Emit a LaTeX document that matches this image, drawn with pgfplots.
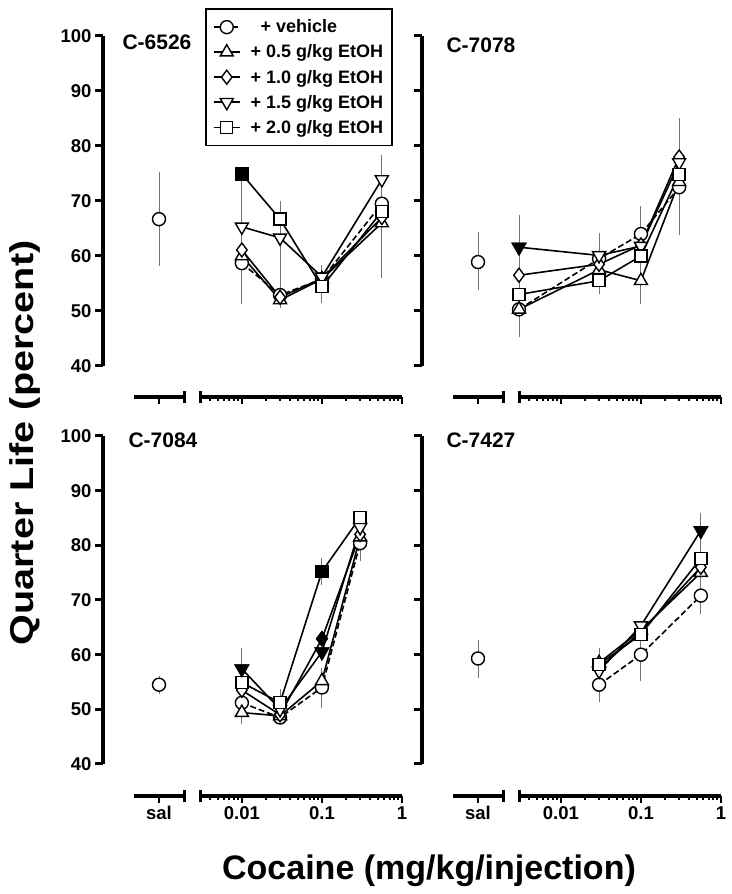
\documentclass[border=0pt]{standalone}
\usepackage{fontspec}
\setmainfont{Liberation Sans}
\usepackage{pgfplots}
\pgfplotsset{compat=1.18}
\newcommand{\tickfont}{\bfseries\fontsize{18.5}{21}\selectfont}
\newcommand{\legfont}{\bfseries\fontsize{18}{20}\selectfont}
\newcommand{\titlefont}{\bfseries\fontsize{21}{25}\selectfont}
\newcommand{\labfont}{\bfseries\fontsize{33}{38}\selectfont}
\pgfplotsset{
  panelbase/.style={scale only axis, clip=false, ymax=100,
    /pgf/number format/assume math mode=true,
    tick label style={font=\tickfont, black},
    tick style={black}},
  nolinearrows/.style={
    every outer x axis line/.append style={-, line width=3.2pt, black},
    every inner x axis line/.append style={-, line width=3.2pt, black},
    every outer y axis line/.append style={-, line width=3.2pt, black},
    every inner y axis line/.append style={-, line width=3.2pt, black},
    x axis line style={-, line width=3.2pt, black},
    y axis line style={-, line width=3.2pt, black}},
  yax/.style={panelbase, width=0.1pt, xmin=0, xmax=1, ymin=40,
    axis y line=left, axis x line=none, nolinearrows,
    ytick={40,50,...,100}, ytick align=outside,
    major tick length=8pt, major tick style={line width=3pt}},
  xbase/.style={panelbase, axis x line=bottom, axis y line=none, nolinearrows,
    xtick align=outside, major tick length=7pt, minor tick length=4pt,
    major tick style={line width=2.4pt}, minor tick style={line width=2pt},
    extra x tick style={major tick length=12pt, xtick align=center, major tick style={line width=3pt}}},
  logax/.style={xbase, width=202pt, xmin=0.003, xmax=1,
    xtick={0.01,0.1,1}, xticklabels={0.01,0.1,1},
    minor xtick={0.004,0.005,0.006,0.007,0.008,0.009,0.02,0.03,0.04,0.05,0.06,0.07,0.08,0.09,0.2,0.3,0.4,0.5,0.6,0.7,0.8,0.9},
    extra x ticks={0.003}, extra x tick labels={}},
  salax/.style={xbase, width=50pt, xmin=0, xmax=2, xtick={1}, xticklabels={sal},
    extra x ticks={2}, extra x tick labels={}},
  toprow/.style={ymin=34.364, height=361pt},
  botrow/.style={ymin=34.146, height=360pt},
  veh/.style={black, line width=1.6pt, dash pattern=on 6pt off 3pt, mark=*, mark size=6.5pt, mark options={solid, fill=white, line width=1.4pt}},
  tri/.style={black, line width=1.6pt, mark=triangle*, mark size=7.5pt, mark options={solid, fill=white, line width=1.4pt}},
  dia/.style={black, line width=1.6pt, mark=diamond*, mark size=7pt, mark options={solid, fill=white, line width=1.4pt}},
  inv/.style={black, line width=1.6pt, mark=triangle*, mark size=7.5pt, mark options={solid, fill=white, line width=1.4pt, rotate=180}},
  sq/.style={black, line width=1.6pt, mark=square*, mark size=6pt, mark options={solid, fill=white, line width=1.4pt}},
  err/.style={forget plot, only marks, mark=none, error bars/y dir=both, error bars/y explicit, error bars/error mark=none, error bars/error bar style={line width=1pt, black!55}},
}
\begin{document}
\begin{tikzpicture}[x=1pt,y=1pt]
\path[use as bounding box] (0,0) rectangle (731,894);

% ================= C-6526 (top left) =================
\begin{axis}[yax, height=330pt, at={(103pt,528pt)}, anchor=south west]
\end{axis}
\begin{axis}[salax, toprow, xticklabels={}, at={(134pt,497pt)}, anchor=south west]
\addplot[err] coordinates {(1,66.7) +- (0,8.5)};
\addplot[veh, forget plot] coordinates {(1,66.7)};
\end{axis}
\begin{axis}[xmode=log, logax, toprow, xticklabels={}, at={(200pt,497pt)}, anchor=south west,
  legend cell align=left,
  legend image code/.code={\draw[mark repeat=2,mark phase=2] plot coordinates {(0pt,0pt) (13pt,0pt) (26pt,0pt)};},
  legend style={at={(0.025,1.0776)}, anchor=north west, draw=black, line width=1.8pt,
    font=\legfont, row sep=6.5pt, column sep=8pt, inner xsep=7pt, inner ysep=9pt}]
\addplot[err] coordinates {(0.01,58.7) += (0,16.3) -= (0,7.4) (0.03,52.9) += (0,17.1) -= (0,2.4) (0.1,55.8) += (0,2.5) -= (0,4.3) (0.56,69.5) += (0,8.8) -= (0,13.5)};
\addplot[veh] coordinates {(0.01,58.7) (0.03,52.9) (0.1,55.8) (0.56,69.5)};
\addlegendentry{\ \ + vehicle}
\addplot[tri] coordinates {(0.01,60.0) (0.03,52.0) (0.1,55.8) (0.56,66.0)};
\addlegendentry{+ 0.5 g/kg EtOH}
\addplot[dia] coordinates {(0.01,61.1) (0.03,52.5) (0.1,55.9) (0.56,67.0)};
\addlegendentry{+ 1.0 g/kg EtOH}
\addplot[inv] coordinates {(0.01,65.3) (0.03,63.3) (0.1,56.2) (0.56,73.9)};
\addlegendentry{+ 1.5 g/kg EtOH}
\addplot[sq] coordinates {(0.01,74.9) (0.03,66.7) (0.1,54.4) (0.56,68.1)};
\addlegendentry{+ 2.0 g/kg EtOH}
\addplot[sq, forget plot, only marks, mark options={fill=black, line width=1.4pt}] coordinates {(0.01,74.9)};
\end{axis}

% ================= C-7078 (top right) =================
\begin{axis}[yax, height=330pt, yticklabels={}, at={(422pt,528pt)}, anchor=south west]
\end{axis}
\begin{axis}[salax, toprow, xticklabels={}, at={(453pt,497pt)}, anchor=south west]
\addplot[err] coordinates {(1,58.9) += (0,5.4) -= (0,5.1)};
\addplot[veh, forget plot] coordinates {(1,58.9)};
\end{axis}
\begin{axis}[xmode=log, logax, toprow, xticklabels={}, at={(519pt,497pt)}, anchor=south west]
\addplot[err] coordinates {(0.003,50.3) += (0,17.1) -= (0,5.0) (0.03,59.5) += (0,4.6) -= (0,6.5) (0.1,64.0) += (0,5.0) -= (0,12.7) (0.3,72.5) += (0,12.5) -= (0,8.7)};
\addplot[veh] coordinates {(0.003,50.3) (0.03,59.5) (0.1,64.0) (0.3,72.5)};
\addplot[tri] coordinates {(0.003,50.3) (0.03,57.5) (0.1,55.5) (0.3,73.5)};
\addplot[dia] coordinates {(0.003,56.5) (0.03,58.5) (0.1,62.0) (0.3,78.0)};
\addplot[inv] coordinates {(0.003,61.6) (0.03,60.1) (0.1,61.8) (0.3,77.0)};
\addplot[sq] coordinates {(0.003,53.0) (0.03,55.5) (0.1,60.0) (0.3,74.8)};
\addplot[inv, forget plot, only marks, mark options={fill=black, line width=1.4pt, rotate=180}] coordinates {(0.003,61.6)};
\end{axis}

% ================= C-7084 (bottom left) =================
\begin{axis}[yax, height=328pt, at={(103pt,130pt)}, anchor=south west]
\end{axis}
\begin{axis}[salax, botrow, at={(134pt,98pt)}, anchor=south west]
\addplot[err] coordinates {(1,54.5) += (0,1.6) -= (0,1.7)};
\addplot[veh, forget plot] coordinates {(1,54.5)};
\end{axis}
\begin{axis}[xmode=log, logax, botrow, at={(200pt,98pt)}, anchor=south west]
\addplot[err] coordinates {(0.01,51.2) += (0,10.1) -= (0,3.9) (0.03,48.5) += (0,5.3) -= (0,0.5) (0.1,54.0) += (0,3.5) -= (0,3.7) (0.1,75.2) += (0,2.4) -= (0,2.4) (0.3,80.4) += (0,1.0) -= (0,3.2)};
\addplot[veh] coordinates {(0.01,51.2) (0.03,48.5) (0.1,54.0) (0.3,80.4)};
\addplot[tri] coordinates {(0.01,49.4) (0.03,48.8) (0.1,55.2) (0.3,81.5)};
\addplot[dia] coordinates {(0.01,53.5) (0.03,49.0) (0.1,62.9) (0.3,82.0)};
\addplot[inv] coordinates {(0.01,57.4) (0.03,50.0) (0.1,60.5) (0.3,83.3)};
\addplot[sq] coordinates {(0.01,54.9) (0.03,51.2) (0.1,75.2) (0.3,85.1)};
\addplot[dia, forget plot, only marks, mark options={fill=black, line width=1.4pt}] coordinates {(0.1,62.9)};
\addplot[inv, forget plot, only marks, mark options={fill=black, line width=1.4pt, rotate=180}] coordinates {(0.01,57.4) (0.1,60.5)};
\addplot[sq, forget plot, only marks, mark options={fill=black, line width=1.4pt}] coordinates {(0.1,75.2)};
\end{axis}

% ================= C-7427 (bottom right) =================
\begin{axis}[yax, height=328pt, yticklabels={}, at={(422pt,130pt)}, anchor=south west]
\end{axis}
\begin{axis}[salax, botrow, at={(453pt,98pt)}, anchor=south west]
\addplot[err] coordinates {(1,59.3) += (0,3.3) -= (0,3.5)};
\addplot[veh, forget plot] coordinates {(1,59.3)};
\end{axis}
\begin{axis}[xmode=log, logax, botrow, at={(519pt,98pt)}, anchor=south west]
\addplot[err] coordinates {(0.03,54.5) += (0,6.8) -= (0,3.2) (0.1,60.0) += (0,2.6) -= (0,4.8) (0.56,70.8) += (0,15.2) -= (0,3.3)};
\addplot[veh] coordinates {(0.03,54.5) (0.1,60.0) (0.56,70.8)};
\addplot[tri] coordinates {(0.03,58.5) (0.1,64.5) (0.56,75.0)};
\addplot[dia] coordinates {(0.03,57.5) (0.1,64.2) (0.56,76.0)};
\addplot[inv] coordinates {(0.03,57.0) (0.1,65.3) (0.56,82.7)};
\addplot[sq] coordinates {(0.03,58.2) (0.1,63.7) (0.56,77.6)};
\addplot[inv, forget plot, only marks, mark options={fill=black, line width=1.4pt, rotate=180}] coordinates {(0.56,82.7)};
\end{axis}

% ================= titles and labels =================
\node[anchor=base west, font=\titlefont] at (119,844) {C-6526};
\node[anchor=base west, font=\titlefont] at (443,841) {C-7078};
\node[anchor=base west, font=\titlefont] at (125,446) {C-7084};
\node[anchor=base west, font=\titlefont] at (443,446) {C-7427};
\node[rotate=90, font=\labfont] at (25,451) {\scalebox{1.2}[1]{Quarter Life (percent)}};
\node[anchor=base, font=\fontsize{34}{40}\bfseries\selectfont] at (429,14) {Cocaine (mg/kg/injection)};
\end{tikzpicture}
\end{document}
